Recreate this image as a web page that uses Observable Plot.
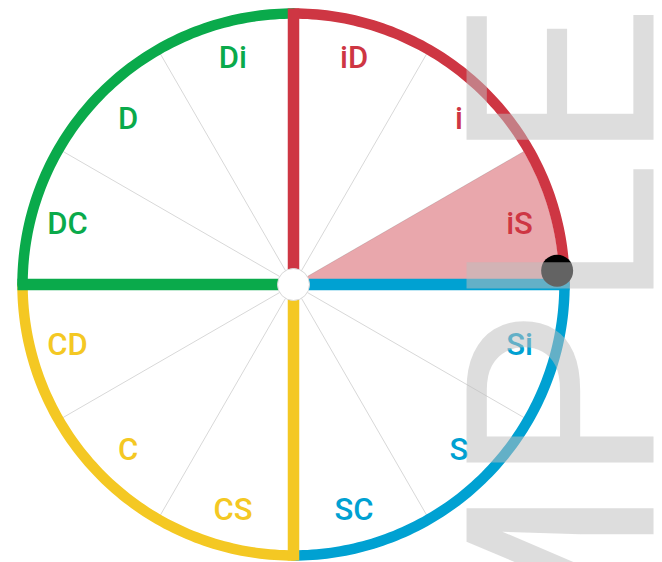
<!DOCTYPE html>
<html>
<head>
<meta charset="utf-8">
<script src="https://cdn.jsdelivr.net/npm/d3@7"></script>
<script src="https://cdn.jsdelivr.net/npm/@observablehq/plot@0.6"></script>
<style>
  html, body { margin: 0; padding: 0; background: #fff; }
  #chart svg { display: block; }
</style>
</head>
<body>
<div id="chart"></div>
<script>
// ---- data ----
const quadrantNames = ["i", "S", "C", "D"];
const quadrantColors = ["#CE3643", "#00A1D2", "#F4C823", "#0AAA4B"];
const quadrantStartAngles = [0, -90, -180, 90];   // degrees, counter-clockwise from east
const quadrantEndAngles = [90, 0, -90, 180];
const quadrantLineAngles = [90, 0, -90, 180];

const segmentLabels = ["iD", "i", "iS", "Si", "S", "SC", "CS", "C", "CD", "DC", "D", "Di"];
const segmentAngles = [75, 45, 15, -15, -45, -75, -105, -135, -165, 165, 135, 105];
const segmentQuadrant = ["i", "i", "i", "S", "S", "S", "C", "C", "C", "D", "D", "D"];

const dividerAngles = [30, 60, 120, 150, 210, 240, 300, 330];

const highlightLabel = "iS";
const highlightStart = 0;
const highlightEnd = 30;

const markerAngle = 3;
const markerRadius = 264;

const watermarkText = "SAMPLE";

// ---- layout ----
const W = 662, H = 562, CX = 293, CY = 284, R = 271;
const rad = (a) => a * Math.PI / 180;
const colorOf = Object.fromEntries(quadrantNames.map((q, i) => [q, quadrantColors[i]]));

const arcPts = [];
quadrantNames.forEach((q, i) => {
  const a0 = quadrantStartAngles[i], a1 = quadrantEndAngles[i];
  for (let a = a0; a <= a1 + 1e-9; a += 1) {
    arcPts.push({q, x: R * Math.cos(rad(a)), y: R * Math.sin(rad(a))});
  }
});

const radialLines = quadrantNames.map((q, i) => ({
  q, a: quadrantLineAngles[i],
  x2: (R + 5) * Math.cos(rad(quadrantLineAngles[i])),
  y2: (R + 5) * Math.sin(rad(quadrantLineAngles[i]))
}));

const dividers = dividerAngles.map(a => ({x2: R * Math.cos(rad(a)), y2: R * Math.sin(rad(a))}));

const labels = segmentLabels.map((t, i) => ({
  t, q: segmentQuadrant[i],
  x: 234 * Math.cos(rad(segmentAngles[i])),
  y: 234 * Math.sin(rad(segmentAngles[i]))
}));

const wedge = [{x: 0, y: 0}];
for (let a = highlightStart; a <= highlightEnd + 1e-9; a += 1) {
  wedge.push({x: (R - 5) * Math.cos(rad(a)), y: (R - 5) * Math.sin(rad(a))});
}
wedge.push({x: 0, y: 0});
const highlightColor = colorOf[segmentQuadrant[segmentLabels.indexOf(highlightLabel)]];

const marker = [{x: markerRadius * Math.cos(rad(markerAngle)), y: markerRadius * Math.sin(rad(markerAngle))}];

const chart = Plot.plot({
  width: W, height: H,
  margin: 0,
  x: {domain: [-CX, W - CX], range: [0, W], axis: null},
  y: {domain: [CY - H, CY], range: [H, 0], axis: null},
  style: {background: "#fff", fontFamily: "Roboto, sans-serif"},
  marks: [
    Plot.link(dividers, {x1: 0, y1: 0, x2: "x2", y2: "y2", stroke: "#d8d8d8", strokeWidth: 1}),
    Plot.line(wedge, {x: "x", y: "y", fill: highlightColor, fillOpacity: 0.44, stroke: "none"}),
    Plot.line(arcPts, {x: "x", y: "y", z: "q", stroke: d => colorOf[d.q], strokeWidth: 10.5, curve: "linear"}),
    Plot.link(radialLines, {x1: 0, y1: 0, x2: "x2", y2: "y2", stroke: d => colorOf[d.q], strokeWidth: 11.5}),
    Plot.dot([{x: 0, y: 0}], {x: "x", y: "y", r: 16, fill: "#fff", stroke: "#d8d8d8", strokeWidth: 1}),
    Plot.text(labels, {x: "x", y: "y", text: "t", fill: d => colorOf[d.q], fontSize: 31, fontWeight: 500, fontFamily: "Roboto"}),
    Plot.dot(marker, {x: "x", y: "y", r: 16, fill: "#000", stroke: "none"}),
    Plot.text([watermarkText], {x: 360, y: 279, text: d => d, rotate: -90, textAnchor: "end", lineAnchor: "bottom",
      fontSize: 263, fontWeight: 400, fontFamily: "Roboto", fill: "#bebebe", fillOpacity: 0.52})
  ]
});
// widen the watermark slightly along its reading direction
const textGroups = d3.select(chart).selectAll('g[aria-label="text"]').nodes();
d3.select(textGroups[textGroups.length - 1]).selectAll("text")
  .attr("transform", function () { return (this.getAttribute("transform") || "") + " scale(1.05,1)"; });
document.getElementById("chart").appendChild(chart);
</script>
</body>
</html>
